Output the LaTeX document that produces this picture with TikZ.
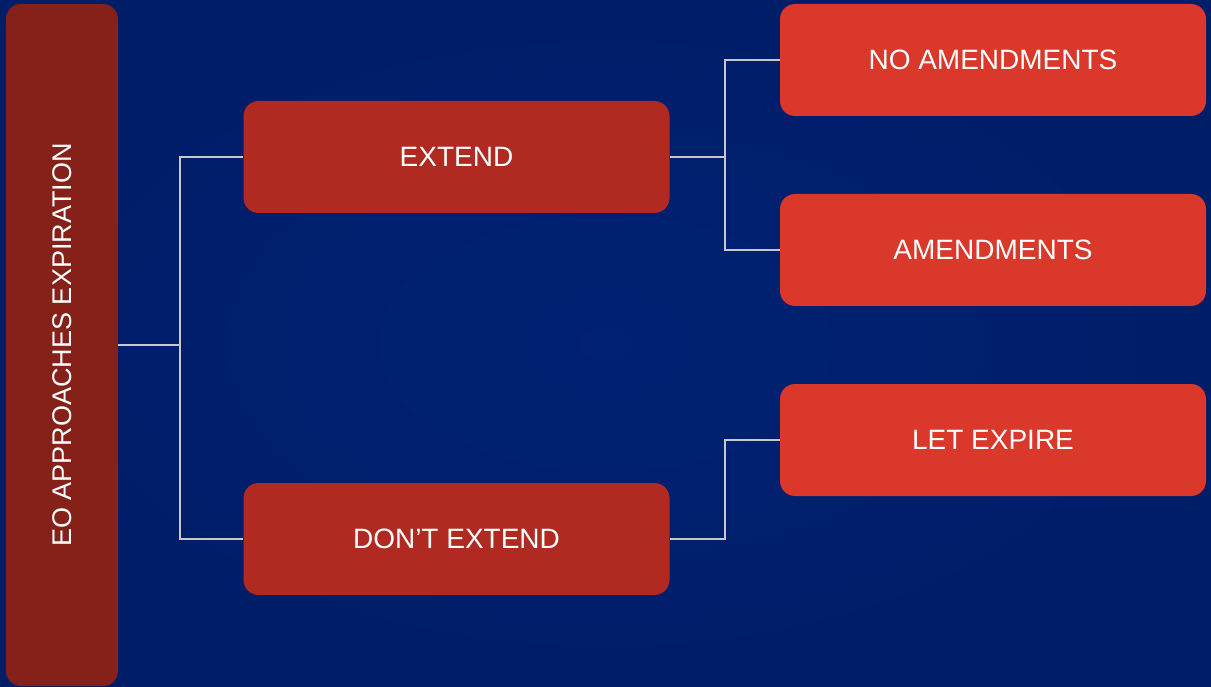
\documentclass[tikz,border=0pt]{standalone}
\usepackage{fontspec}
\setmainfont{Liberation Sans}
\definecolor{bgout}{RGB}{0,29,104}
\definecolor{bgin}{RGB}{0,33,116}
\definecolor{barc}{RGB}{134,33,26}
\definecolor{midc}{RGB}{176,42,33}
\definecolor{endc}{RGB}{217,56,43}
\definecolor{linec}{RGB}{200,200,200}
\tikzset{
  box/.style={rounded corners=15pt, minimum width=426pt, minimum height=112pt, inner sep=0pt, text=white, font=\fontsize{28}{33}\selectfont},
  midbox/.style={box, fill=midc},
  endbox/.style={box, fill=endc},
  conn/.style={draw=linec, line width=2pt}
}
\begin{document}
\begin{tikzpicture}[x=1pt,y=-1pt]
\useasboundingbox (0,0) rectangle (1211,687);
\shade[inner color=bgin, outer color=bgout] (0,0) rectangle (1211,687);
\node[rotate=90, rounded corners=15pt, fill=barc, minimum width=682pt, minimum height=112pt, inner sep=0pt, text=white, font=\fontsize{27}{32}\selectfont] (bar) at (62,345) {EO APPROACHES EXPIRATION};
\node[midbox] (ext) at (456.5,157) {EXTEND};
\node[midbox] (dont) at (456.5,539) {DON’T EXTEND};
\node[endbox] (noam) at (993,60) {NO AMENDMENTS};
\node[endbox] (am) at (993,250) {AMENDMENTS};
\node[endbox] (let) at (993,440) {LET EXPIRE};
\coordinate (j1) at (180,345);
\coordinate (j2) at (725,157);
\coordinate (j3) at (725,539);
\draw[conn] (bar.south) -- (j1);
\draw[conn] (j1) |- (ext.west);
\draw[conn] (j1) |- (dont.west);
\draw[conn] (ext.east) -- (j2);
\draw[conn] (j2) |- (noam.west);
\draw[conn] (j2) |- (am.west);
\draw[conn] (dont.east) -- (j3) |- (let.west);
\end{tikzpicture}
\end{document}
